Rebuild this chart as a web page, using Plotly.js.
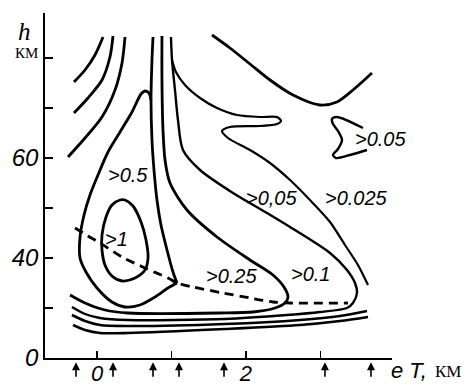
<!DOCTYPE html>
<html>
<head>
<meta charset="utf-8">
<script src="https://cdn.plot.ly/plotly-3.0.1.min.js"></script>
<style>
  html, body { margin: 0; padding: 0; background: #fff; }
  #chart { width: 466px; height: 385px; }
</style>
</head>
<body>
<div id="chart"></div>
<script>
// curves: x in units of lT, y in km (bottom row shown as 0)
var arc1X = [-0.309, -0.161, -0.027, 0.081];
var arc1Y = [75.2, 77.6, 80.6, 84.2];
var arc2X = [-0.309, -0.121, 0.067, 0.174, 0.215];
var arc2Y = [69.0, 72.0, 75.6, 80.2, 84.4];
var arc3X = [-0.389, -0.161, 0.067, 0.242, 0.336, 0.376];
var arc3Y = [60.2, 64.0, 68.2, 73.6, 79.0, 84.2];

var vertX = [0.752, 0.738, 0.725, 0.738, 0.765, 0.805, 0.859, 0.940, 1.020, 1.074];
var vertY = [84.2, 79.6, 71.6, 63.6, 57.6, 51.6, 46.6, 41.6, 37.2, 35.0];

var c05X = [0.725, 0.698, 0.644, 0.591, 0.470, 0.309, 0.148, 0.013, -0.094, -0.174, -0.228, -0.228, -0.148, 0, 0.201, 0.376, 0.577, 0.779, 0.953, 1.074];
var c05Y = [71.6, 73.0, 73.4, 72.8, 69.2, 65.2, 61.2, 56.6, 52.6, 48.6, 44.2, 40.0, 37.2, 34.0, 31.2, 30.2, 30.6, 32.2, 34.0, 35.0];

var c1X = [0.309, 0.201, 0.121, 0.067, 0.067, 0.107, 0.201, 0.336, 0.510, 0.644, 0.685, 0.658, 0.591, 0.483, 0.376, 0.309];
var c1Y = [51.6, 50.6, 48.2, 44.6, 41.6, 38.6, 36.4, 35.4, 36.0, 37.6, 40.0, 43.6, 47.2, 50.4, 51.6, 51.6];

var c025X = [0.872, 0.872, 0.886, 0.913, 0.980, 1.208, 1.611, 2.054, 2.362, 2.510, 2.564, 2.523, 2.389, 2.094, 1.651, 0.416, 0.107, -0.161, -0.362];
var c025Y = [84.4, 75.6, 65.6, 59.6, 55.0, 49.6, 44.2, 39.6, 36.6, 34.2, 32.2, 31.0, 30.0, 29.2, 29.0, 29.0, 29.6, 31.0, 32.6];

var c01X = [0.993, 1.007, 1.047, 1.087, 1.154, 1.383, 1.826, 2.282, 2.591, 3.128, 3.356, 3.463, 3.490, 3.436, 3.356, 2.993, 2.550, 1.718, 0.416, 0.040, -0.161, -0.336];
var c01Y = [84.2, 79.6, 73.6, 67.6, 61.6, 57.6, 53.0, 49.0, 46.2, 41.0, 37.6, 35.0, 33.0, 31.0, 30.0, 29.2, 28.6, 27.8, 27.6, 28.0, 28.8, 30.2];

var tongueX = [1.007, 1.060, 1.181, 1.383, 1.611, 1.879, 2.188, 2.416, 2.470, 2.416, 2.188, 1.785, 1.678, 1.758, 2.054, 2.322, 2.591, 2.859, 3.128, 3.329, 3.503, 3.638];
var tongueY = [79.6, 77.2, 74.6, 72.0, 70.0, 68.6, 68.2, 68.2, 67.4, 66.8, 66.4, 66.2, 65.4, 64.0, 61.6, 59.0, 55.6, 51.6, 47.2, 42.6, 38.6, 34.6];

var topArcX = [1.544, 1.785, 2.054, 2.322, 2.631, 2.993, 3.221, 3.436, 3.691];
var topArcY = [84.6, 82.0, 78.8, 75.6, 72.6, 70.6, 71.2, 73.6, 77.0];

var sigmaX = [3.570, 3.221, 3.154, 3.168, 3.235, 3.289, 3.235, 3.168, 3.208, 3.396, 3.624];
var sigmaY = [66.0, 68.2, 67.8, 66.8, 65.4, 63.6, 61.8, 60.6, 60.0, 60.6, 61.6];

var low3X = [-0.336, -0.161, 0.040, 0.416, 1.718, 2.725, 3.262, 3.624];
var low3Y = [28.6, 27.4, 26.6, 26.4, 26.8, 27.6, 28.4, 29.4];
var low4X = [-0.322, -0.161, 0.040, 0.416, 1.718, 2.725, 3.262, 3.638];
var low4Y = [26.6, 25.6, 25.0, 25.0, 25.8, 26.6, 27.4, 28.2];

var dashX = [-0.295, -0.121, 0.040, 0.336, 0.644, 0.953, 1.074, 1.289, 1.691, 2.054, 2.362, 2.591, 3.369];
var dashY = [46.0, 44.4, 43.0, 40.2, 38.0, 36.0, 35.0, 34.2, 33.0, 32.0, 31.2, 31.0, 31.0];

var arrowX = [-0.282, 0.215, 0.752, 1.101, 1.705, 3.060, 3.678];

var labelText = ['>0.5', '>1', '>0.25', '>0,05', '>0.025', '>0.1', '>0.05'];
var labelX = [0.416, 0.268, 1.799, 2.336, 3.490, 2.872, 3.812];
var labelY = [56.6, 43.8, 36.4, 52.0, 52.0, 36.8, 63.8];

var yTicks = [20, 30, 40, 50, 60, 70, 80];
var yTickText = ['0', '', '40', '', '60', '', ''];
var xTicks = [0, 1, 2, 3];
var xTickText = ['0', '', '2', ''];

function curve(x, y, w, dash) {
  return {
    type: 'scatter', mode: 'lines', x: x, y: y,
    line: { color: '#000', width: w || 2.8, shape: 'spline', smoothing: 0.8, dash: dash || 'solid' },
    hoverinfo: 'skip', showlegend: false
  };
}

var data = [
  curve(arc1X, arc1Y), curve(arc2X, arc2Y), curve(arc3X, arc3Y),
  curve(vertX, vertY), curve(c05X, c05Y), curve(c1X, c1Y),
  curve(c025X, c025Y), curve(c01X, c01Y, 2.4), curve(tongueX, tongueY, 2.2),
  curve(topArcX, topArcY), curve(sigmaX, sigmaY, 2.4),
  curve(low3X, low3Y, 2.6), curve(low4X, low4Y, 2.6),
  curve(dashX, dashY, 2.8, '9px,6px')
];

var labFont = { family: 'Liberation Sans, Arial, sans-serif', size: 20, color: '#000', style: 'italic' };
var annotations = [];
for (var i = 0; i < labelText.length; i++) {
  annotations.push({ x: labelX[i], y: labelY[i], xref: 'x', yref: 'y', text: labelText[i],
    showarrow: false, font: labFont });
}
arrowX.forEach(function (ax) {
  annotations.push({ x: ax, y: -0.012, xref: 'x', yref: 'paper', text: '', showarrow: true,
    ax: 0, ay: 16, arrowhead: 2, arrowsize: 1, arrowwidth: 1.6, arrowcolor: '#000' });
});
// axis captions
function caption(x, y, text, font) {
  annotations.push({ x: x, y: y, xref: 'paper', yref: 'paper', xanchor: 'center', yanchor: 'middle',
    text: text, showarrow: false, font: font });
}
caption(-0.058, 0.945, '<i>h</i>', { family: 'Liberation Serif, serif', size: 25, color: '#000' });
caption(-0.052, 0.885, 'КМ', { family: 'Liberation Serif, serif', size: 15, color: '#000' });
caption(1.05, -0.035, '<i>e T,</i>', { family: 'Liberation Sans, sans-serif', size: 22, color: '#000' });
caption(1.16, -0.04, 'КМ', { family: 'Liberation Serif, serif', size: 17, color: '#000' });

var tickFont = { family: 'Liberation Sans, Arial, sans-serif', size: 24, color: '#000', style: 'italic' };

var layout = {
  width: 466, height: 385,
  margin: { l: 45, r: 74, t: 13, b: 27 },
  paper_bgcolor: '#fff', plot_bgcolor: '#fff',
  showlegend: false,
  xaxis: {
    range: [-0.698, 3.96], showgrid: false, zeroline: false,
    showline: true, linecolor: '#000', linewidth: 1.8,
    ticks: 'inside', ticklen: 7, tickwidth: 1.6, tickcolor: '#000',
    tickvals: xTicks, ticktext: xTickText,
    tickfont: { family: 'Liberation Sans, Arial, sans-serif', size: 22, color: '#000', style: 'italic' },
    ticklabelstandoff: -5
  },
  yaxis: {
    range: [20, 89], showgrid: false, zeroline: false,
    showline: true, linecolor: '#000', linewidth: 1.8,
    ticks: 'inside', ticklen: 8, tickwidth: 1.6, tickcolor: '#000',
    tickvals: yTicks, ticktext: yTickText, tickfont: tickFont
  },
  annotations: annotations
};

Plotly.newPlot('chart', data, layout, { staticPlot: true, displayModeBar: false });
</script>
</body>
</html>
